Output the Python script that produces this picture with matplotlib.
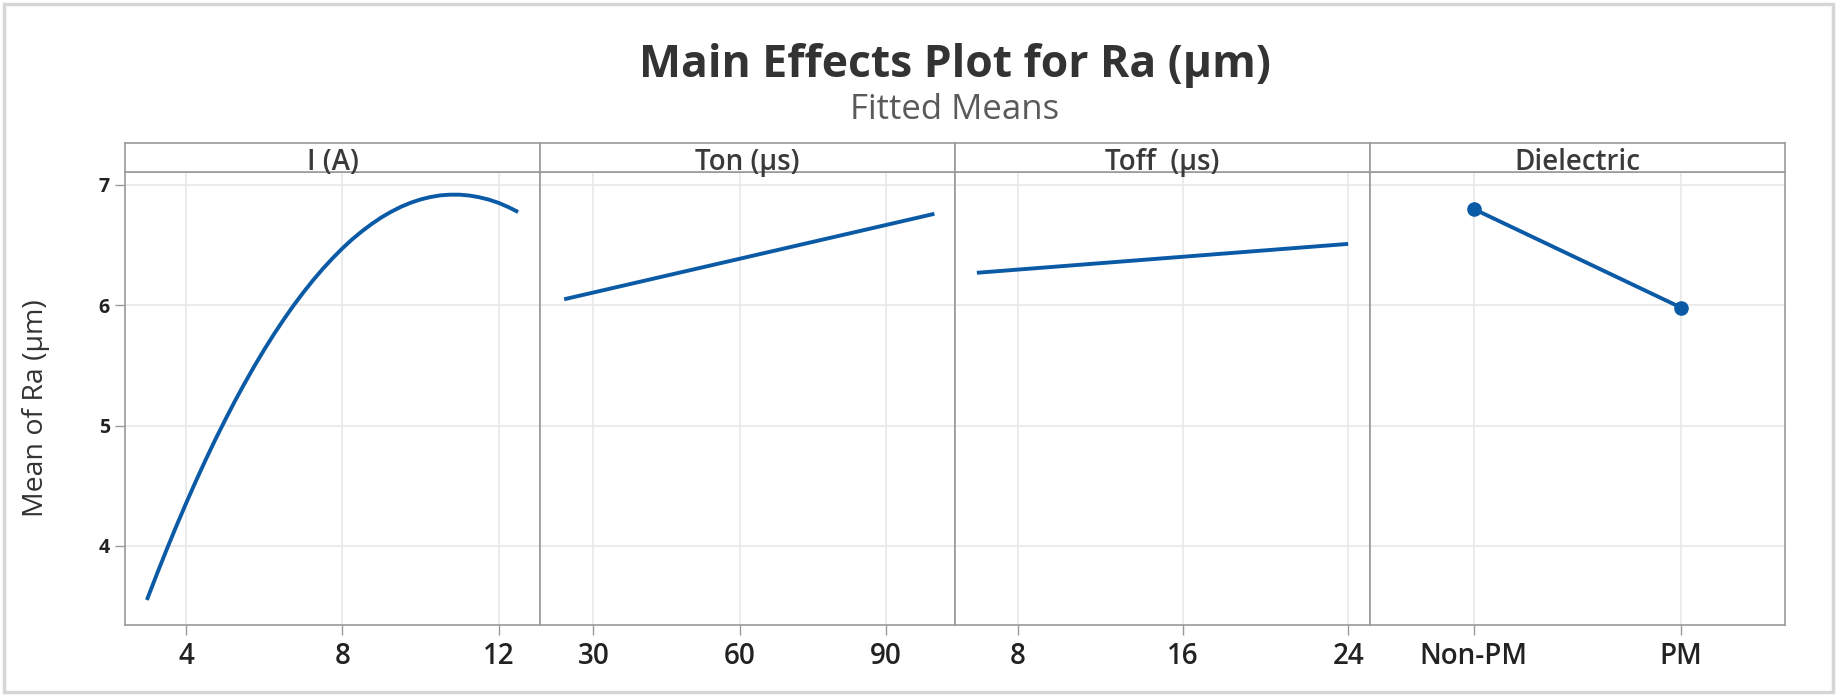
import matplotlib
matplotlib.use('Agg')
import matplotlib.pyplot as plt
from matplotlib.patches import Rectangle

# ---------------- data ----------------
current_I = [3.0, 3.25, 3.5, 3.75, 4.0, 4.25, 4.5, 4.75, 5.0, 5.25,
             5.5, 5.75, 6.0, 6.25, 6.5, 6.75, 7.0, 7.25, 7.5, 7.75,
             8.0, 8.25, 8.5, 8.75, 9.0, 9.25, 9.5, 9.75, 10.0, 10.25,
             10.5, 10.75, 11.0, 11.25, 11.5, 11.75, 12.0, 12.25, 12.5]
ra_I = [3.551, 3.761, 3.965, 4.162, 4.352, 4.536, 4.713, 4.883, 5.045, 5.202,
        5.351, 5.494, 5.630, 5.759, 5.881, 5.997, 6.105, 6.207, 6.302, 6.390,
        6.472, 6.547, 6.614, 6.675, 6.730, 6.777, 6.818, 6.852, 6.879, 6.899,
        6.913, 6.919, 6.919, 6.912, 6.898, 6.878, 6.851, 6.816, 6.775]

ton = [24, 100]
ra_ton = [6.05, 6.76]

toff = [6, 24]
ra_toff = [6.27, 6.51]

dielectric = ['Non-PM', 'PM']
ra_diel = [6.80, 5.98]

panel_titles = ['I (A)', 'Ton (µs)', 'Toff  (µs)', 'Dielectric']
I_ticks = [4, 8, 12]
ton_ticks = [30, 60, 90]
toff_ticks = [8, 16, 24]
y_ticks = [4, 5, 6, 7]

title = 'Main Effects Plot for Ra (µm)'
subtitle = 'Fitted Means'
ylabel = 'Mean of Ra (µm)'

# ---------------- style ----------------
plt.rcParams['font.family'] = ['Open Sans', 'DejaVu Sans']
W, H = 1839, 698
fig = plt.figure(figsize=(W / 100, H / 100), dpi=100)
fig.patch.set_facecolor('white')

line_c = '#0b5aa6'
spine_c = '#9a9a9a'
grid_c = '#e6e6e6'
text_c = '#333333'

left_px, right_px = 125, 1785
top_px, bottom_px = 171.7, 625
header_top_px = 142.7
pw = (right_px - left_px) / 4

xlims = [(2.44, 13.06), (19.04, 104.23), (4.94, 25.06), (-0.5, 1.5)]
ylim = (3.343, 7.11)

axes = []
for i in range(4):
    x0 = (left_px + i * pw) / W
    ax = fig.add_axes([x0, 1 - bottom_px / H, pw / W, (bottom_px - top_px) / H])
    axes.append(ax)
    ax.set_xlim(*xlims[i])
    ax.set_ylim(*ylim)
    ax.set_yticks(y_ticks)
    ax.grid(True, color=grid_c, lw=1.1)
    ax.set_axisbelow(True)
    for s in ax.spines.values():
        s.set_color(spine_c)
        s.set_linewidth(1.2)
    ax.tick_params(axis='x', length=7, width=1, color=spine_c, pad=5,
                   labelsize=20, labelcolor='#222222')
    if i == 0:
        ax.tick_params(axis='y', length=7, width=1, color=spine_c, pad=4,
                       labelsize=14, labelcolor='#222222')
        for lab in ax.get_yticklabels():
            lab.set_fontweight('bold')
    else:
        ax.tick_params(axis='y', length=0, labelleft=False)

    # header strip
    hax = fig.add_axes([x0, 1 - top_px / H, pw / W, (top_px - header_top_px) / H])
    hax.set_xticks([])
    hax.set_yticks([])
    for s in hax.spines.values():
        s.set_color(spine_c)
        s.set_linewidth(1.2)
    hax.text(0.5, 0.32, panel_titles[i], transform=hax.transAxes,
             ha='center', va='center', fontsize=20, color='#3a3a3a',
             fontweight='semibold')

ax1, ax2, ax3, ax4 = axes
ax1.plot(current_I, ra_I, color=line_c, lw=2.8, solid_capstyle='butt',
         solid_joinstyle='round')
ax1.set_xticks(I_ticks)

ax2.plot(ton, ra_ton, color=line_c, lw=2.8, solid_capstyle='butt')
ax2.set_xticks(ton_ticks)

ax3.plot(toff, ra_toff, color=line_c, lw=2.8, solid_capstyle='butt')
ax3.set_xticks(toff_ticks)

xd = list(range(len(dielectric)))
ax4.plot(xd, ra_diel, color=line_c, lw=2.8, marker='o', markersize=9.5)
ax4.set_xticks(xd)
ax4.set_xticklabels(dielectric)

for ax in axes:
    for lab in ax.get_xticklabels():
        lab.set_fontweight('semibold')

# titles
cx = (left_px + right_px) / 2 / W
fig.text(cx, 1 - 66 / H, title, ha='center', va='center', fontsize=32,
         fontweight='bold', color=text_c)
fig.text(cx, 1 - 110 / H, subtitle, ha='center', va='center', fontsize=25,
         color='#5a5a5a')
fig.text(36 / W, 1 - 408 / H, ylabel, ha='center', va='center', rotation=90,
         fontsize=20.5, color=text_c, fontweight='medium')

# outer frame
fig.add_artist(Rectangle((4 / W, 1 - 692 / H), (1833 - 4) / W, (692 - 4) / H,
                         transform=fig.transFigure, fill=False,
                         ec='#d6d6d6', lw=2.5))

fig.savefig('out.png', dpi=100, facecolor='white')
